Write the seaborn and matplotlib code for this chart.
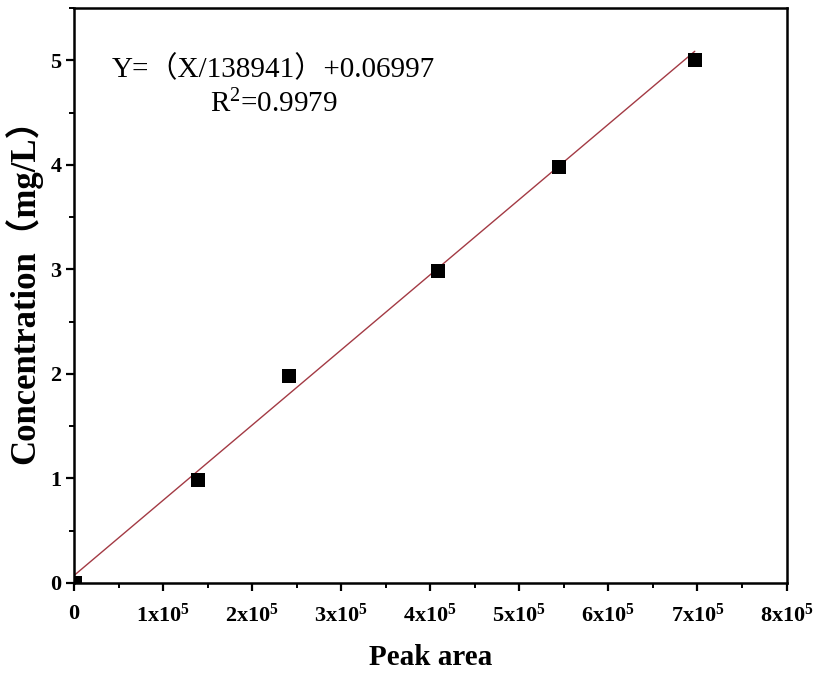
import numpy as np
import pandas as pd
import matplotlib
matplotlib.use("Agg")
import matplotlib.pyplot as plt
import seaborn as sns
from matplotlib.ticker import MultipleLocator, FuncFormatter

# data
peak_area = [1000, 139300, 241600, 409000, 544000, 697000]
concentration = [0.0, 0.98, 1.98, 2.98, 3.98, 5.0]
fit_divisor = 138941
fit_intercept = 0.06997
r_squared = 0.9979
x_tick_labels = ["0", "1x10$^{\\mathbf{5}}$", "2x10$^{\\mathbf{5}}$", "3x10$^{\\mathbf{5}}$",
                 "4x10$^{\\mathbf{5}}$", "5x10$^{\\mathbf{5}}$", "6x10$^{\\mathbf{5}}$",
                 "7x10$^{\\mathbf{5}}$", "8x10$^{\\mathbf{5}}$"]

sns.set_theme(style="ticks")
plt.rcParams['font.family'] = ['Liberation Serif', 'Noto Sans CJK SC']
plt.rcParams['mathtext.fontset'] = 'custom'
plt.rcParams['mathtext.rm'] = 'Liberation Serif'
plt.rcParams['mathtext.bf'] = 'Liberation Serif:bold'
plt.rcParams['mathtext.default'] = 'rm'
plt.rcParams['text.color'] = 'black'
plt.rcParams['axes.labelcolor'] = 'black'
plt.rcParams['xtick.color'] = 'black'
plt.rcParams['ytick.color'] = 'black'
plt.rcParams['xtick.labelcolor'] = 'black'
plt.rcParams['ytick.labelcolor'] = 'black'

fig = plt.figure(figsize=(8.18, 6.73), dpi=100)
ax = fig.add_axes([0.0905, 0.134, 0.871, 0.854])

df = pd.DataFrame({"x": peak_area, "y": concentration})
xl = np.array([0.0, max(peak_area)], dtype=float)
line_df = pd.DataFrame({"x": xl, "y": xl / fit_divisor + fit_intercept})
sns.lineplot(data=line_df, x="x", y="y", ax=ax, color="#a33a44", linewidth=1.0, zorder=2)
sns.scatterplot(data=df, x="x", y="y", ax=ax, marker="s", s=95, color="black",
                edgecolor="black", linewidth=0, zorder=3)

ax.set_xlim(0, 8e5)
ax.set_ylim(0, 5.5)
ax.xaxis.set_major_locator(MultipleLocator(1e5))
ax.xaxis.set_minor_locator(MultipleLocator(0.5e5))
ax.yaxis.set_major_locator(MultipleLocator(1))
ax.yaxis.set_minor_locator(MultipleLocator(0.5))
ax.xaxis.set_major_formatter(FuncFormatter(lambda v, p: x_tick_labels[int(round(v / 1e5))] if 0 <= round(v / 1e5) < len(x_tick_labels) else ""))
ax.yaxis.set_major_formatter(FuncFormatter(lambda v, p: f"{int(round(v))}"))

for s in ax.spines.values():
    s.set_linewidth(1.8)
    s.set_color("black")
ax.tick_params(which="major", direction="out", length=6, width=1.6, labelsize=16)
ax.tick_params(which="minor", direction="out", length=3.5, width=1.4)
ax.tick_params(axis="x", which="major", pad=9)
ax.tick_params(axis="y", which="major", pad=3)
ax.tick_params(top=False, right=False)
for lab in ax.get_xticklabels() + ax.get_yticklabels():
    lab.set_fontweight("bold")

ax.set_xlabel("Peak area", fontsize=21, fontweight="bold", labelpad=12)
ax.set_ylabel("Concentration（mg/L）", fontsize=25, fontweight="bold")
ax.yaxis.set_label_coords(-0.045, 0.522)

ax.text(0.28, 0.894, f"Y=（X/{fit_divisor}）+{fit_intercept}", transform=ax.transAxes,
        ha="center", va="center", fontsize=21, fontweight="normal")
ax.text(0.28, 0.833, f"R$^{{2}}$={r_squared}", transform=ax.transAxes,
        ha="center", va="center", fontsize=21, fontweight="normal")

fig.savefig("out.png", dpi=100)
